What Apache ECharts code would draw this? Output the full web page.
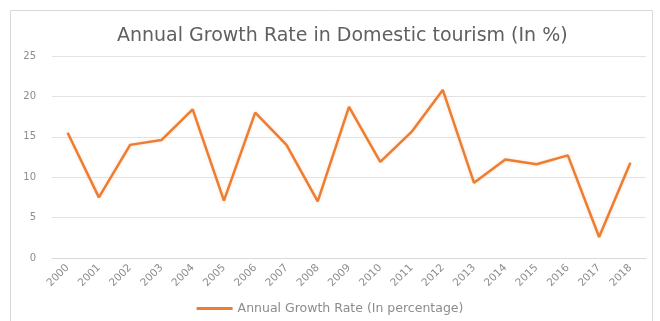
<!DOCTYPE html>
<html>
<head>
<meta charset="utf-8">
<script src="https://cdn.jsdelivr.net/npm/echarts@6/dist/echarts.min.js"></script>
<style>
  html, body { margin: 0; padding: 0; background: #fff; }
  #chart { width: 660px; height: 321px; }
</style>
</head>
<body>
<div id="chart"></div>
<script>
var years = ['2000', '2001', '2002', '2003', '2004', '2005', '2006', '2007', '2008', '2009',
  '2010', '2011', '2012', '2013', '2014', '2015', '2016', '2017', '2018'];
var growthRate = [15.5, 7.5, 14.0, 14.6, 18.4, 7.1, 18.0, 14.0, 7.0, 18.7,
  11.9, 15.6, 20.8, 9.3, 12.2, 11.6, 12.7, 2.6, 11.8];
var yTicks = [0, 5, 10, 15, 20, 25];
var seriesName = 'Annual Growth Rate (In percentage)';

var chart = echarts.init(document.getElementById('chart'), null, { renderer: 'canvas' });
chart.setOption({
  animation: false,
  backgroundColor: '#fff',
  title: {
    text: 'Annual Growth Rate in Domestic tourism (In %)',
    left: 112,
    top: 22,
    textStyle: { color: '#606060', fontSize: 19, fontWeight: 'normal', fontFamily: 'DejaVu Sans' }
  },
  graphic: [{
    type: 'rect',
    left: 8, top: 8,
    shape: { width: 642, height: 318 },
    style: { fill: 'none', stroke: '#d9d9d9', lineWidth: 1 },
    silent: true
  }],
  legend: {
    bottom: 1,
    left: 'center',
    icon: 'rect',
    itemWidth: 36,
    itemHeight: 3,
    itemGap: 4,
    textStyle: { color: '#8c8c8c', fontSize: 12.5, fontFamily: 'DejaVu Sans' },
    data: [seriesName]
  },
  grid: { left: 52, right: 14, top: 56, bottom: 63 },
  xAxis: {
    type: 'category',
    data: years,
    boundaryGap: true,
    axisLine: { lineStyle: { color: '#d9d9d9' } },
    axisTick: { show: false },
    axisLabel: { color: '#8c8c8c', fontSize: 10.5, rotate: 45, margin: 8, fontFamily: 'DejaVu Sans' }
  },
  yAxis: {
    type: 'value',
    min: yTicks[0],
    max: yTicks[yTicks.length - 1],
    interval: 5,
    axisLine: { show: false },
    axisTick: { show: false },
    axisLabel: { color: '#8c8c8c', fontSize: 10, margin: 16, fontFamily: 'DejaVu Sans' },
    splitLine: { lineStyle: { color: '#e3e3e3' } }
  },
  series: [{
    name: seriesName,
    type: 'line',
    data: growthRate,
    symbol: 'none',
    lineStyle: { color: '#ED7D31', width: 2.5, shadowColor: 'rgba(237,125,49,0.25)', shadowBlur: 3 },
    itemStyle: { color: '#ED7D31' }
  }]
});
window.addEventListener('resize', function() { chart.resize(); });
</script>
</body>
</html>
